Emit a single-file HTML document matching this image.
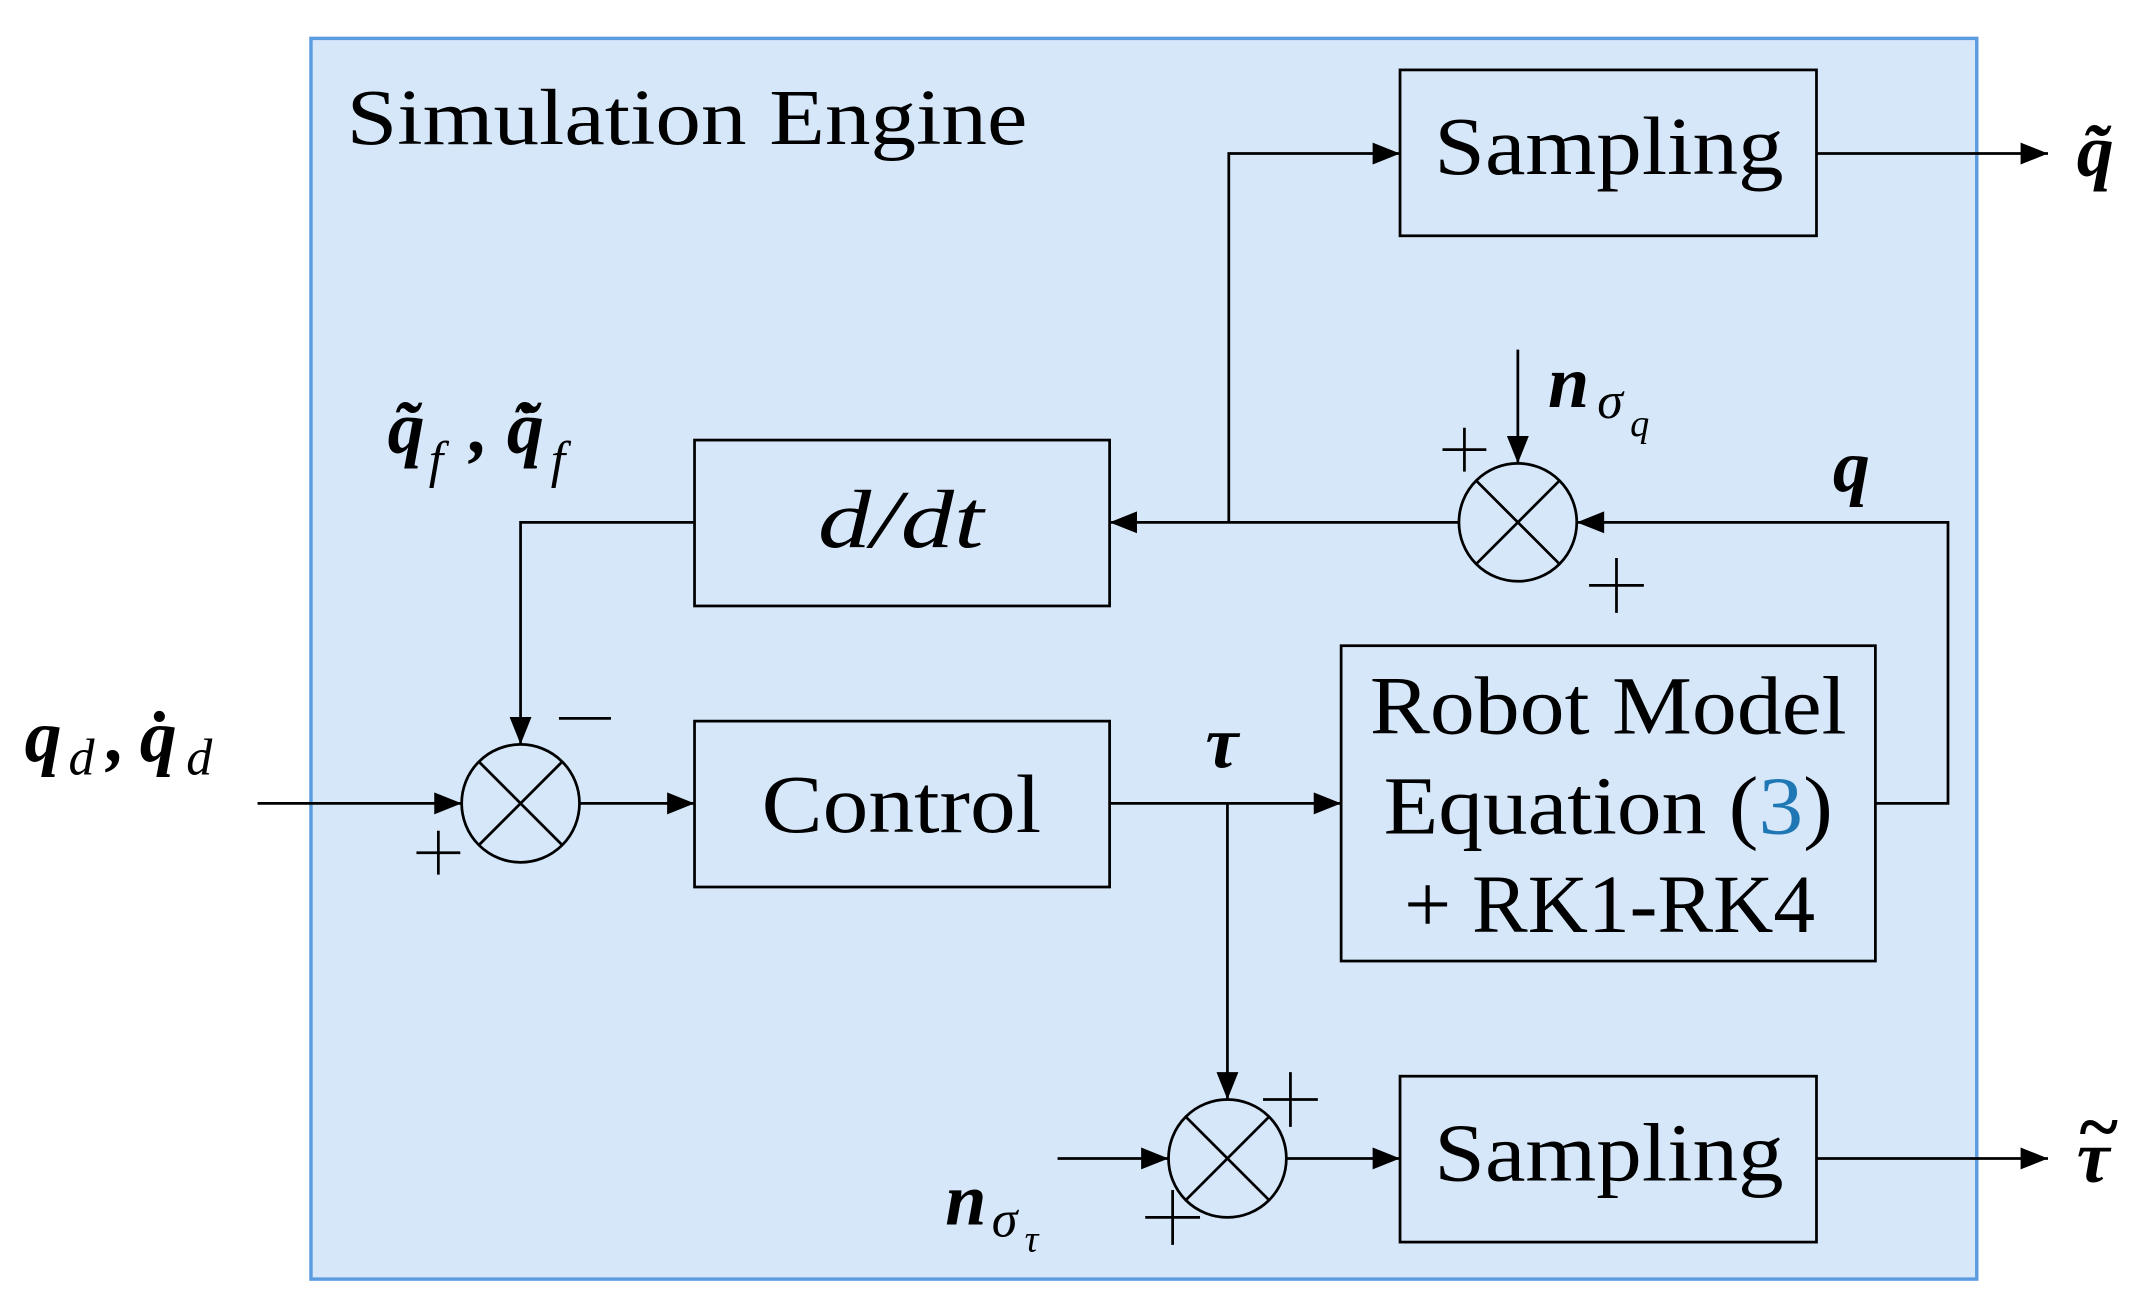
<!DOCTYPE html>
<html><head><meta charset="utf-8"><style>
html,body{margin:0;padding:0;background:#fff}
svg{display:block}
text{font-family:"Liberation Serif",serif;fill:#000}
.b{font-weight:bold;font-style:italic}
.i{font-style:italic}
</style></head><body>
<svg width="2148" height="1312" viewBox="0 0 1568 957" preserveAspectRatio="none" xmlns="http://www.w3.org/2000/svg">
<defs>
<marker id="A" viewBox="0 0 10 8" refX="10" refY="4" markerWidth="22" markerHeight="16" markerUnits="userSpaceOnUse" orient="auto">
<path d="M0,0 L10,4 L0,8 Z" fill="#000"/></marker>
</defs>
<rect x="227" y="28" width="1216" height="905" fill="#d6e7fa" stroke="#5b9be0" stroke-width="2.5"/>
<text x="253" y="105" font-size="58" textLength="497" lengthAdjust="spacingAndGlyphs">Simulation Engine</text>
<g fill="none" stroke="#000" stroke-width="2">
<rect x="1022" y="51" width="304" height="121"/>
<rect x="507" y="321" width="303" height="121"/>
<rect x="507" y="526" width="303" height="121"/>
<rect x="979" y="471" width="390" height="230"/>
<rect x="1022" y="785" width="304" height="121"/>
<circle cx="380" cy="586" r="43"/>
<path d="M350,556 L410,616 M410,556 L350,616"/>
<circle cx="1108" cy="381" r="43"/>
<path d="M1078,351 L1138,411 M1138,351 L1078,411"/>
<circle cx="896" cy="845" r="43"/>
<path d="M866,815 L926,875 M926,815 L866,875"/>
<line x1="188" y1="586" x2="337" y2="586" marker-end="url(#A)"/>
<line x1="423" y1="586" x2="507" y2="586" marker-end="url(#A)"/>
<line x1="810" y1="586" x2="979" y2="586" marker-end="url(#A)"/>
<line x1="896" y1="586" x2="896" y2="802" marker-end="url(#A)"/>
<line x1="772" y1="845" x2="853" y2="845" marker-end="url(#A)"/>
<line x1="939" y1="845" x2="1022" y2="845" marker-end="url(#A)"/>
<line x1="1326" y1="845" x2="1495" y2="845" marker-end="url(#A)"/>
<line x1="1326" y1="112" x2="1495" y2="112" marker-end="url(#A)"/>
<polyline points="1369,586 1422,586 1422,381 1151,381" marker-end="url(#A)"/>
<line x1="1065" y1="381" x2="810" y2="381" marker-end="url(#A)"/>
<polyline points="897,381 897,112 1022,112" marker-end="url(#A)"/>
<polyline points="507,381 380,381 380,543" marker-end="url(#A)"/>
<line x1="1108" y1="255" x2="1108" y2="338" marker-end="url(#A)"/>
<!-- plus / minus signs -->
<path d="M304,622 H336 M320,606 V638"/>
<path d="M1053,328 H1085 M1069,312 V344"/>
<path d="M1160,427 H1200 M1180,407 V447"/>
<path d="M922,802 H962 M942,782 V822"/>
<path d="M836,888 H876 M856,868 V908"/>
<path d="M408,524 H446"/>
</g>
<g font-size="60">
<text x="1047" y="127" textLength="255" lengthAdjust="spacingAndGlyphs">Sampling</text>
<text x="1047" y="861" textLength="255" lengthAdjust="spacingAndGlyphs">Sampling</text>
<text x="597" y="399" class="i" textLength="121" lengthAdjust="spacingAndGlyphs">d/dt</text>
<text x="556" y="607" textLength="204" lengthAdjust="spacingAndGlyphs">Control</text>
<text x="1000" y="535" textLength="348" lengthAdjust="spacingAndGlyphs">Robot Model</text>
<text x="1010" y="608" textLength="328" lengthAdjust="spacingAndGlyphs">Equation (<tspan fill="#1f77b4">3</tspan>)</text>
<text x="1025" y="680" textLength="300" lengthAdjust="spacingAndGlyphs">+ RK1-RK4</text>
</g>
<g font-size="54" class="b">
<text x="880" y="560">τ</text>
<text x="1338" y="358">q</text>
<text x="1516" y="128">q̃</text>
<text x="1516" y="862">τ</text>
<text x="1518" y="840" font-style="normal">~</text>
<text x="18" y="555">q</text>
<text x="78" y="555">,</text>
<text x="102" y="555">q̇</text>
<text x="283" y="330">q̃</text>
<text x="343" y="330">,</text>
<text x="370" y="330">q̃̇</text>
<text x="1130" y="297">n</text>
<text x="690" y="893">n</text>
</g>
<g font-size="38" class="i">
<text x="50" y="565">d</text>
<text x="136" y="565">d</text>
<text x="313" y="348">f</text>
<text x="402" y="348">f</text>
<text x="1166" y="305">σ</text>
<text x="1190" y="318" font-size="28">q</text>
<text x="724" y="902">σ</text>
<text x="748" y="913" font-size="28">τ</text>
</g>
</svg>
</body></html>
